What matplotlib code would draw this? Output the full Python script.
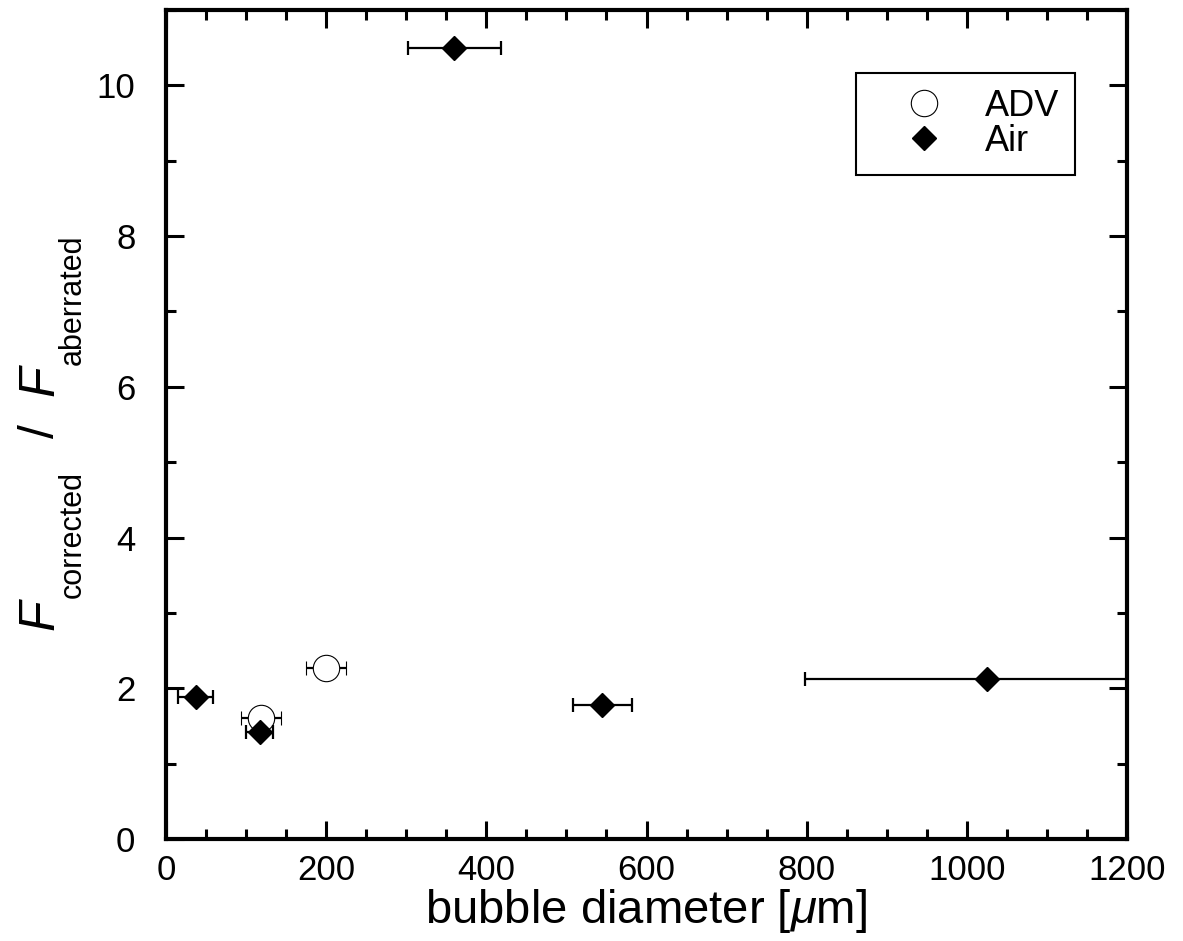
"""Relacion de fluorescencia corregida / aberrada frente al diametro de burbuja."""

import matplotlib

matplotlib.use("Agg")
import matplotlib.pyplot as plt  # noqa: E402
from matplotlib.lines import Line2D  # noqa: E402
from matplotlib.ticker import MultipleLocator  # noqa: E402

plt.rcParams["font.family"] = ["Liberation Sans", "DejaVu Sans"]
plt.rcParams["mathtext.fontset"] = "custom"
plt.rcParams["mathtext.rm"] = "Liberation Sans"
plt.rcParams["mathtext.it"] = "Liberation Sans:italic"

# Datos
adv_diametro = [119, 200]
adv_razon = [1.60, 2.27]
adv_err = [25, 25]

air_diametro = [37, 117, 360, 545, 1025]
air_razon = [1.88, 1.42, 10.5, 1.78, 2.12]
air_err = [22, 17, 58, 37, 227]

ANCHO, ALTO = 1183, 941

fig = plt.figure(figsize=(ANCHO / 100, ALTO / 100), dpi=100)
ax = fig.add_axes([0.1403, 0.1084, 0.8124, 0.881])

ax.errorbar(
    adv_diametro, adv_razon, xerr=adv_err, fmt="o", ms=19, mfc="white",
    mec="black", mew=0.8, ecolor="black", elinewidth=1.6, capsize=4.7,
    capthick=1.6, zorder=3,
)
ax.errorbar(
    air_diametro, air_razon, xerr=air_err, fmt="D", ms=12.5, mfc="black",
    mec="black", ecolor="black", elinewidth=1.6, capsize=4.7, capthick=1.6,
    zorder=4,
)

ax.set_xlim(0, 1200)
ax.set_ylim(0, 11)
ax.xaxis.set_major_locator(MultipleLocator(200))
ax.xaxis.set_minor_locator(MultipleLocator(50))
ax.yaxis.set_major_locator(MultipleLocator(2))
ax.yaxis.set_minor_locator(MultipleLocator(1))
ax.tick_params(which="both", direction="in", top=True, right=True, width=2.2)
ax.tick_params(which="major", length=13, labelsize=25)
ax.tick_params(which="minor", length=7)
ax.tick_params(axis="x", which="major", pad=11)
ax.tick_params(axis="y", which="major", pad=22)
for lado in ax.spines.values():
    lado.set_linewidth(3)

ax.set_xlabel(r"bubble diameter [$\mu$m]", fontsize=34, labelpad=0)


# Etiqueta del eje y armada por piezas (subindices bajos, como el original)
def _pieza(x, y, texto, tam, estilo="normal"):
    fig.text(
        x / ANCHO, 1 - y / ALTO, texto, fontsize=tam, style=estilo,
        rotation=90, rotation_mode="anchor", ha="left", va="baseline",
    )


_pieza(53, 630, "F", 36, "italic")
_pieza(81, 598, "corrected", 22)
_pieza(54, 438, "/", 36)
_pieza(53, 396, "F", 36, "italic")
_pieza(81, 365, "aberrated", 22)

manijas = [
    Line2D([], [], ls="none", marker="o", ms=19, mfc="white", mec="black",
           mew=0.8, label="ADV"),
    Line2D([], [], ls="none", marker="D", ms=12.5, mfc="black", mec="black",
           label="Air"),
]
x1 = (1075 - 166) / 961
y1 = (839 - 73) / 829
leyenda = ax.legend(
    handles=manijas, loc="upper right", bbox_to_anchor=(x1, y1), fontsize=26,
    frameon=True, fancybox=False, edgecolor="black", framealpha=1,
    labelspacing=0.0, handletextpad=0.25, borderpad=0.44, handlelength=2.88,
    borderaxespad=0,
)
leyenda.get_frame().set_linewidth(1.5)

fig.savefig("out.png", dpi=100)
